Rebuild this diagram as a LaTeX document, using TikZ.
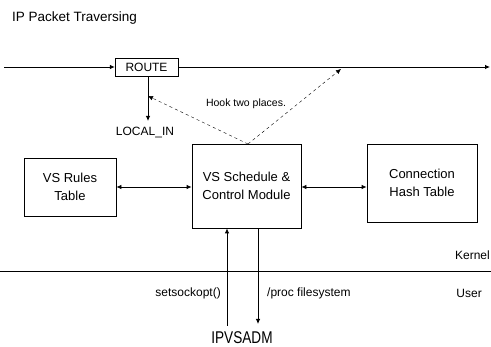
\documentclass[tikz,border=0pt]{standalone}
\usepackage{fontspec}
\setmainfont{Liberation Sans}
\newfontfamily\tallfont[FakeStretch=0.8]{Liberation Sans}
\usetikzlibrary{arrows.meta}
\begin{document}
\begin{tikzpicture}[x=1pt,y=-1pt,
  box/.style={draw,thick,align=center,inner sep=0pt,font=\fontsize{13}{18}\selectfont},
  lab/.style={inner sep=0pt,font=\fontsize{12}{14}\selectfont},
  tip/.style={-{Latex[length=5pt,width=4.5pt]}},
  dtip/.style={{Latex[length=5pt,width=4.5pt]}-{Latex[length=5pt,width=4.5pt]}},
  hook/.style={tip,dash pattern=on 3pt off 3pt}]
\useasboundingbox (0,0) rectangle (491,347);
\node[lab,anchor=west,font=\fontsize{13.5}{15}\selectfont] (title) at (12,18) {IP Packet Traversing};
% packet line
\coordinate (in) at (4,67);
\coordinate (out) at (490,67);
\node[box,thin,draw,minimum width=63pt,minimum height=18pt,font=\fontsize{12}{14}\selectfont] (route) at (146.5,67) {ROUTE};
\draw[thick,tip] (in) -- (route.west);
\draw[thick,tip] (route.east) -- (out);
\coordinate (hooka) at (148,96);
\coordinate (hookb) at (341,69);
\coordinate (localend) at (148,121);
\draw[thick,tip] (route.south -| localend) -- (localend);
\node[lab] (localin) at (145,133) {LOCAL\_IN};
% boxes
\node[box,minimum width=92pt,minimum height=58pt] (rules) at (70,187) {VS Rules\\Table};
\node[box,minimum width=109pt,minimum height=84pt] (sched) at (246.5,186) {VS Schedule \&\\Control Module};
\node[box,minimum width=110pt,minimum height=78pt] (hash) at (422,183) {Connection\\Hash Table};
\draw[thick,dtip] (rules.east |- 0,187) -- (sched.west |- 0,187);
\draw[thick,dtip] (sched.east |- 0,187) -- (hash.west |- 0,187);
% hooks
\coordinate (hookorig) at (248,144);
\draw[hook] (hookorig) -- (hooka);
\draw[hook] (hookorig) -- (hookb);
\node[lab,font=\fontsize{10.5}{12}\selectfont] (hooktext) at (246,104) {Hook two places.};
% kernel/user
\coordinate (kl) at (0,271);
\coordinate (kr) at (491,271);
\draw[thick] (kl) -- (kr);
\node[lab,anchor=east] (kernel) at (490,255) {Kernel};
\node[lab,anchor=east] (user) at (482,293) {User};
\node[inner sep=0pt,font=\tallfont\fontsize{17}{18}\selectfont] (ipvsadm) at (242,338) {IPVSADM};
\coordinate (up0) at (227,326);
\coordinate (dn1) at (258,324);
\draw[thick,tip] (up0) -- (up0 |- sched.south);
\draw[thick,tip] (dn1 |- sched.south) -- (dn1);
\node[lab,anchor=east] (sso) at (221,293) {setsockopt()};
\node[lab,anchor=west] (proc) at (267,293) {/proc filesystem};
\end{tikzpicture}
\end{document}
